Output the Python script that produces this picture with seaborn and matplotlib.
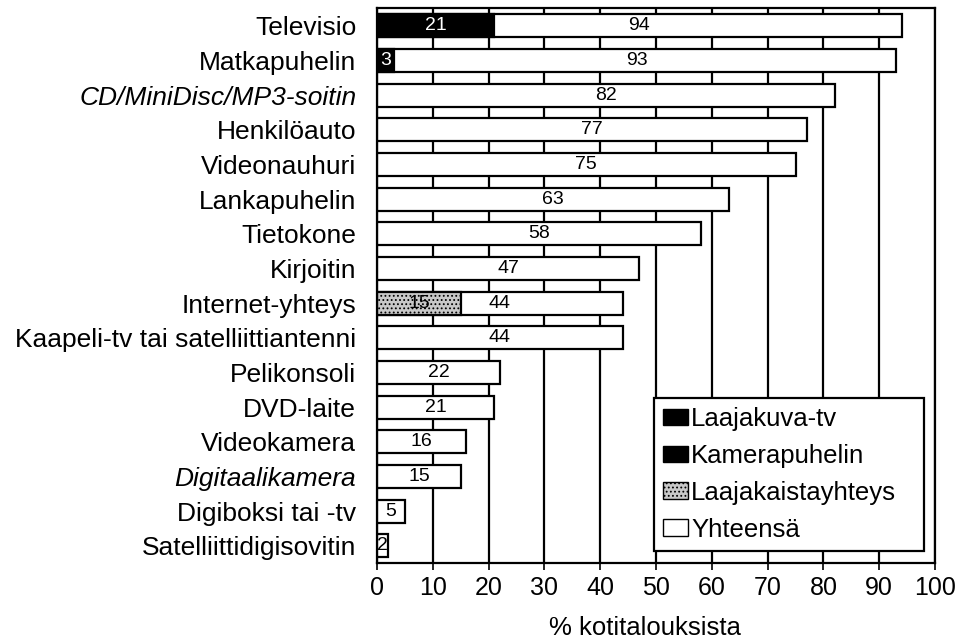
import pandas as pd
import seaborn as sns
import matplotlib.pyplot as plt
from matplotlib.patches import Patch

# Data
categories = ['Televisio', 'Matkapuhelin', 'CD/MiniDisc/MP3-soitin', 'Henkilöauto',
              'Videonauhuri', 'Lankapuhelin', 'Tietokone', 'Kirjoitin', 'Internet-yhteys',
              'Kaapeli-tv tai satelliittiantenni', 'Pelikonsoli', 'DVD-laite', 'Videokamera',
              'Digitaalikamera', 'Digiboksi tai -tv', 'Satelliittidigisovitin']
totals = [94, 93, 82, 77, 75, 63, 58, 47, 44, 44, 22, 21, 16, 15, 5, 2]

sub_categories = ['Televisio', 'Matkapuhelin', 'Internet-yhteys']
sub_kinds = ['Laajakuva-tv', 'Kamerapuhelin', 'Laajakaistayhteys']
sub_values = [21, 3, 15]

italic_labels = ['CD/MiniDisc/MP3-soitin', 'Digitaalikamera']
x_ticks = list(range(0, 101, 10))

sns.set_style('white')
plt.rcParams['font.family'] = ['Liberation Sans', 'DejaVu Sans']
plt.rcParams['hatch.linewidth'] = 0.8
for key in ['text.color', 'axes.labelcolor', 'xtick.color', 'ytick.color']:
    plt.rcParams[key] = 'black'

df_total = pd.DataFrame({'kohde': categories, 'osuus': totals})
df_sub = pd.DataFrame({'kohde': sub_categories, 'laji': sub_kinds, 'osuus': sub_values})

fig = plt.figure(figsize=(9.57, 6.43), dpi=100)
ax = fig.add_axes([0.394, 0.124, 0.583, 0.863])

bar_w = 0.66
sns.barplot(data=df_total, y='kohde', x='osuus', order=categories, color='white',
            saturation=1, edgecolor='black', linewidth=1.6, width=bar_w, ax=ax)
total_container = ax.containers[0]

palette = {'Laajakuva-tv': 'black', 'Kamerapuhelin': 'black', 'Laajakaistayhteys': '#c8c8c8'}
sns.barplot(data=df_sub, y='kohde', x='osuus', hue='laji', hue_order=sub_kinds,
            order=categories, palette=palette, saturation=1, dodge=False,
            edgecolor='black', linewidth=1.6, width=bar_w, legend=False, ax=ax)

# stippled look for broadband
for cont in ax.containers[1:]:
    for p in cont:
        if p.get_facecolor()[0] > 0.5:
            p.set_hatch('....')

# value labels
ax.bar_label(total_container, labels=[str(v) for v in totals], label_type='center',
             fontsize=14, color='black')
for cont in ax.containers[1:]:
    for p in cont:
        w = p.get_width()
        if w != w or w == 0:
            continue
        col = 'white' if p.get_facecolor()[0] < 0.5 else 'black'
        ax.text(p.get_x() + w / 2, p.get_y() + p.get_height() / 2, str(int(round(w))),
                ha='center', va='center', color=col, fontsize=14)

ax.set_xlim(0, 100)
ax.set_xticks(x_ticks)
ax.set_xticklabels([str(t) for t in x_ticks], fontsize=18)
ax.tick_params(axis='x', length=5, width=1.2, color='black', pad=4, direction='out', bottom=True)
ax.tick_params(axis='y', length=0, pad=15, labelsize=19)
for lab in ax.get_yticklabels():
    if lab.get_text() in italic_labels:
        lab.set_fontstyle('italic')

ax.set_axisbelow(True)
ax.xaxis.grid(True, color='black', linewidth=1.6)
ax.yaxis.grid(False)
for s in ax.spines.values():
    s.set_visible(True)
    s.set_color('black')
    s.set_linewidth(1.6)

ax.set_ylabel('')
ax.set_xlabel('% kotitalouksista', fontsize=18.5)
ax.xaxis.set_label_coords(0.48, -0.095)

handles = [Patch(facecolor='black', edgecolor='black'),
           Patch(facecolor='black', edgecolor='black'),
           Patch(facecolor='#c8c8c8', edgecolor='black', hatch='....'),
           Patch(facecolor='white', edgecolor='black')]
leg = ax.legend(handles, sub_kinds + ['Yhteensä'], loc='lower left',
                bbox_to_anchor=(0.496, 0.023, 0.484, 0.28), mode='expand',
                fontsize=18.5, frameon=True,
                fancybox=False, framealpha=1, edgecolor='black',
                handlelength=1.0, handleheight=0.6, handletextpad=0.1,
                labelspacing=0.5, borderpad=0.35, borderaxespad=0)
leg.get_frame().set_linewidth(1.6)

plt.savefig('out.png', dpi=100)
